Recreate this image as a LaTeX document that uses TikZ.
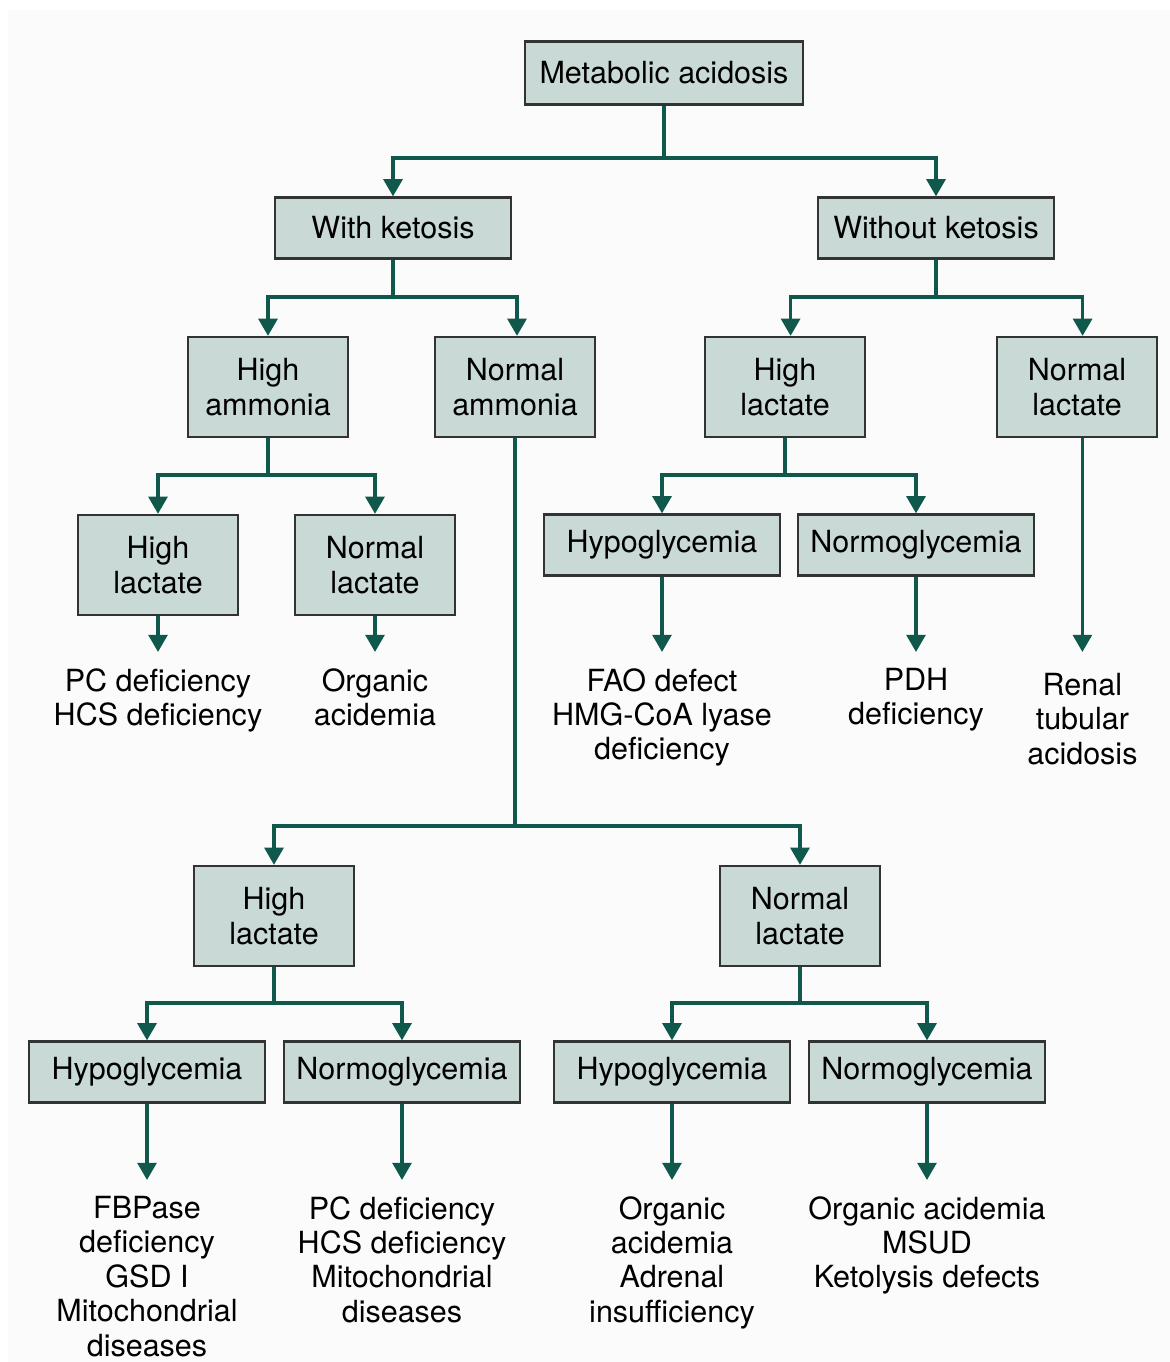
\documentclass[tikz,border=0pt]{standalone}
\usepackage{fontspec}
\setmainfont{TeX Gyre Heros}
\usetikzlibrary{positioning}
\usetikzlibrary{arrows.meta}
\usetikzlibrary{calc}

\definecolor{boxfill}{RGB}{201,217,214}
\definecolor{boxline}{RGB}{50,52,52}
\definecolor{branch}{RGB}{16,88,76}
\definecolor{paper}{RGB}{251,251,251}

\begin{document}
\begin{tikzpicture}[
    every node/.style={font=\fontsize{21.7}{24.5}\selectfont},
    box/.style={align=center, rectangle, draw=boxline, line width=1.6pt, fill=boxfill, inner sep=0pt},
    wide/.style={box, minimum width=5.9cm, minimum height=1.525cm},
    tall/.style={box, minimum width=4cm, minimum height=2.5cm},
    leaf/.style={align=center, anchor=north, inner xsep=0pt, inner ysep=0.4cm},
    wire/.style={draw=branch, line width=2.5pt},
    arr/.style={wire, -{Triangle[width=0.47cm, length=0.43cm]}}
]
    \useasboundingbox (0,0) rectangle (29.25,-34.05);
    \fill[paper] (0.2,-0.25) rectangle (29.25,-34.05);

    % Root
    \node[box, minimum width=6.95cm, minimum height=1.575cm] (MA) at (16.6,-1.825) {Metabolic acidosis};

    % Ketosis split
    \node[wide] (WK) at (9.825,-5.7) {With ketosis};
    \node[wide] (WOK) at (23.4,-5.7) {Without ketosis};

    % Ammonia / lactate
    \node[tall] (HA) at (6.7,-9.675) {High\\ammonia};
    \node[tall] (NA) at (12.875,-9.675) {Normal\\ammonia};
    \node[tall] (HL0) at (19.625,-9.675) {High\\lactate};
    \node[tall] (NL0) at (26.925,-9.675) {Normal\\lactate};

    % Under high ammonia and high lactate
    \node[tall] (HL1) at (3.95,-14.125) {High\\lactate};
    \node[tall] (NL1) at (9.375,-14.125) {Normal\\lactate};
    \node[wide] (HG1) at (16.55,-13.625) {Hypoglycemia};
    \node[wide] (NG1) at (22.9,-13.625) {Normoglycemia};

    % Under normal ammonia
    \node[tall] (HL2) at (6.85,-22.9) {High\\lactate};
    \node[tall] (NL2) at (20.0,-22.9) {Normal\\lactate};

    \node[wide] (HG2) at (3.675,-26.8) {Hypoglycemia};
    \node[wide] (NG2) at (10.05,-26.8) {Normoglycemia};
    \node[wide] (HG3) at (16.8,-26.8) {Hypoglycemia};
    \node[wide] (NG3) at (23.175,-26.8) {Normoglycemia};

    % Diagnoses, upper row
    \node[leaf] (D1) at (3.95,-16.3) {PC deficiency\\HCS deficiency};
    \node[leaf] (D2) at (9.375,-16.3) {Organic\\acidemia};
    \node[leaf] (D3) at (16.55,-16.3) {FAO defect\\HMG-CoA lyase\\deficiency};
    \node[leaf] (D4) at (22.9,-16.3) {PDH\\deficiency};
    \node[leaf, inner ysep=0.52cm] (D5) at (27.06,-16.3) {Renal\\tubular\\acidosis};

    % Diagnoses, lower row
    \node[leaf] (D6) at (3.675,-29.5) {FBPase\\deficiency\\GSD I\\Mitochondrial\\diseases};
    \node[leaf] (D7) at (10.05,-29.5) {PC deficiency\\HCS deficiency\\Mitochondrial\\diseases};
    \node[leaf] (D8) at (16.8,-29.5) {Organic\\acidemia\\Adrenal\\insufficiency};
    \node[leaf] (D9) at (23.175,-29.5) {Organic acidemia\\MSUD\\Ketolysis defects};

    % Branch points
    \coordinate (J0) at (16.6,-3.95);
    \coordinate (J1) at (9.825,-7.425);
    \coordinate (J2) at (23.4,-7.425);
    \coordinate (J3) at (6.7,-11.875);
    \coordinate (J4) at (19.625,-11.875);
    \coordinate (J5) at (12.875,-20.65);
    \coordinate (J6) at (6.85,-25.075);
    \coordinate (J7) at (20.0,-25.075);

    % Connectors
    \draw[wire] (MA.south) -- (J0);
    \draw[arr] (J0) -| (WK.north);
    \draw[arr] (J0) -| (WOK.north);

    \draw[wire] (WK.south) -- (J1);
    \draw[arr] (J1) -| (HA.north);
    \draw[arr] (J1) -| ([xshift=0.05cm]NA.north);

    \draw[wire] (WOK.south) -- (J2);
    \draw[arr] (J2) -| ([xshift=0.14cm]HL0.north);
    \draw[arr] (J2) -| ([xshift=0.14cm]NL0.north);

    \draw[wire] (HA.south) -- (J3);
    \draw[arr] (J3) -| (HL1.north);
    \draw[arr] (J3) -| (NL1.north);

    \draw[wire] (HL0.south) -- (J4);
    \draw[arr] (J4) -| (HG1.north);
    \draw[arr] (J4) -| (NG1.north);

    \draw[wire] (NA.south) -- (J5);
    \draw[arr] (J5) -| (HL2.north);
    \draw[arr] (J5) -| (NL2.north);

    \draw[wire] (HL2.south) -- (J6);
    \draw[arr] (J6) -| (HG2.north);
    \draw[arr] (J6) -| (NG2.north);

    \draw[wire] (NL2.south) -- (J7);
    \draw[arr] (J7) -| (HG3.north);
    \draw[arr] (J7) -| (NG3.north);

    % Box to diagnosis
    \draw[arr] (HL1.south) -- (D1.north);
    \draw[arr] (NL1.south) -- (D2.north);
    \draw[arr] (HG1.south) -- (D3.north);
    \draw[arr] (NG1.south) -- (D4.north);
    \draw[arr] (NL0.south -| D5.north) -- (D5.north);
    \draw[arr] (HG2.south) -- (D6.north);
    \draw[arr] (NG2.south) -- (D7.north);
    \draw[arr] (HG3.south) -- (D8.north);
    \draw[arr] (NG3.south) -- (D9.north);
\end{tikzpicture}
\end{document}
